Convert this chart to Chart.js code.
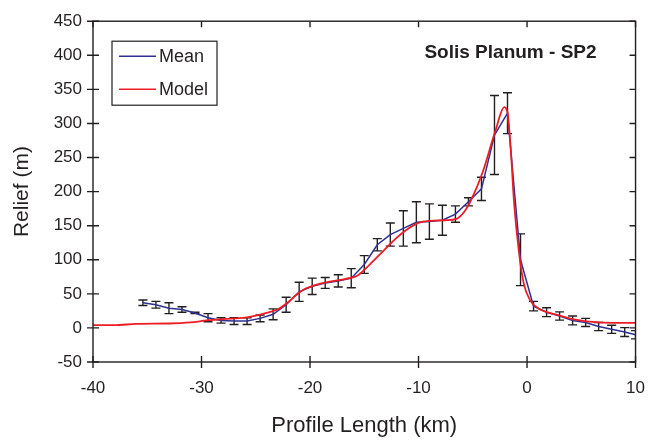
<!DOCTYPE html>
<html><head><meta charset="utf-8">
<script src="https://cdn.jsdelivr.net/npm/chart.js@4/dist/chart.umd.min.js"></script>
<style>html,body{margin:0;padding:0;background:#fff}#wrap{width:661px;height:444px}</style>
</head><body><div id="wrap"><canvas id="c" width="661" height="444"></canvas></div>
<script>
// Mean profile (km, m) with error bars (± m)
const meanX   = [-35.4,-34.2,-33.0,-31.8,-30.6,-29.4,-28.2,-27.0,-25.8,-24.6,-23.4,-22.2,-21.0,-19.8,-18.6,-17.4,-16.2,-15.0,-13.8,-12.6,-11.4,-10.2,-9.0,-7.8,-6.6,-5.4,-4.2,-3.0,-1.8,-0.6,0.6,1.8,3.0,4.2,5.4,6.6,7.8,9.0,10.0];
const meanY   = [37,34,29,27,22,15,11,10,10,14,20,34,53,61,66,69,73,93,122,137,146,155,156,158,167,185,204,283,315,100,32,23,17.5,11,8,2,-2,-6,-10];
const meanErr = [4,5,8,4,1,6,4,5,5,5,8,11,14,12,8,9,14,13,9,17,26,30,26,22,12,6,17,58,30,38,7,6.5,6,6.5,6,6,6,6.5,6];
// Model profile
const modelX = [-40,-38,-36,-33,-31,-29.5,-28,-26,-25,-24,-23,-22,-21.3,-20.5,-19.7,-18.2,-16.7,-15.6,-14.5,-13.3,-12.1,-11,-10,-9,-7.5,-6.5,-5.8,-5.2,-4.1,-2.9,-2.1,-1.8,-1.5,-1.2,-0.75,-0.3,0.3,1.1,2.6,4.2,6,8,10];
const modelY = [4,4,6,6.5,8,11,13,15,18,22,27,38,48,57,62,68,72,77,93,112,131,145,154,157,158,160,170,186,228,290,324,316,262,185,112,65,40,28,20,13,9,7.5,7.5];
// Axis ticks
const xTicks = [-40,-30,-20,-10,0,10];
const yTicks = [-50,0,50,100,150,200,250,300,350,400,450];
const legendLabels = ['Mean','Model'];
const chartTitle = 'Solis Planum - SP2';

const INK = '#231f20';
const BLUE = '#2e3192';
const RED = '#ed1c24';

const errorBars = {
  id:'errorBars',
  beforeDatasetsDraw(chart){
    const {ctx, chartArea:a, scales:{x,y}} = chart;
    ctx.save();
    ctx.beginPath(); ctx.rect(a.left,a.top,a.right-a.left,a.bottom-a.top); ctx.clip();
    ctx.strokeStyle = INK; ctx.lineWidth = 1.4;
    meanX.forEach((mx,i)=>{
      const px = x.getPixelForValue(mx);
      const t = y.getPixelForValue(meanY[i]+meanErr[i]);
      const b = y.getPixelForValue(meanY[i]-meanErr[i]);
      ctx.beginPath();
      ctx.moveTo(px,t); ctx.lineTo(px,b);
      ctx.moveTo(px-4.5,t); ctx.lineTo(px+4.5,t);
      ctx.moveTo(px-4.5,b); ctx.lineTo(px+4.5,b);
      ctx.stroke();
    });
    ctx.restore();
  }
};

const frame = {
  id:'frame',
  afterDatasetsDraw(chart){
    const {ctx, chartArea:a, scales:{x,y}} = chart;
    ctx.save();
    ctx.strokeStyle = INK; ctx.lineWidth = 1.4;
    ctx.strokeRect(a.left, a.top, a.right-a.left, a.bottom-a.top);
    ctx.beginPath();
    xTicks.forEach(v=>{
      const px = x.getPixelForValue(v);
      ctx.moveTo(px, a.bottom-6); ctx.lineTo(px, a.bottom+6);
      ctx.moveTo(px, a.top); ctx.lineTo(px, a.top+6);
    });
    yTicks.forEach(v=>{
      const py = y.getPixelForValue(v);
      ctx.moveTo(a.left-6, py); ctx.lineTo(a.left+6, py);
      ctx.moveTo(a.right-6, py); ctx.lineTo(a.right, py);
    });
    ctx.stroke();
    ctx.restore();
  },
  afterDraw(chart){
    const {ctx, chartArea:a} = chart;
    ctx.save();
    // legend box
    const lx = a.left+19, ly = a.top+20, lw = 105, lh = 64;
    ctx.fillStyle='#fff'; ctx.fillRect(lx,ly,lw,lh);
    ctx.strokeStyle = INK; ctx.lineWidth = 1.2;
    ctx.strokeRect(lx,ly,lw,lh);
    const cols = [BLUE, RED];
    ctx.font = '18px "Liberation Sans", Arial, sans-serif';
    ctx.textBaseline = 'middle'; ctx.textAlign='left';
    legendLabels.forEach((lab,i)=>{
      const yy = ly + 15 + i*33;
      ctx.strokeStyle = cols[i]; ctx.lineWidth = 1.6;
      ctx.beginPath(); ctx.moveTo(lx+7,yy); ctx.lineTo(lx+44,yy); ctx.stroke();
      ctx.fillStyle = INK; ctx.fillText(lab, lx+47, yy+1);
    });
    // title
    ctx.font = 'bold 19px "Liberation Sans", Arial, sans-serif';
    ctx.textAlign = 'right'; ctx.fillStyle = INK;
    ctx.fillText(chartTitle, a.right-39, a.top+32);
    ctx.restore();
  }
};

new Chart(document.getElementById('c'), {
  type:'scatter',
  data:{
    datasets:[
      {label:legendLabels[1], data:modelX.map((v,i)=>({x:v,y:modelY[i]})), showLine:true, borderColor:RED, borderWidth:1.8, pointRadius:0, order:0, cubicInterpolationMode:'monotone'},
      {label:legendLabels[0], data:meanX.map((v,i)=>({x:v,y:meanY[i]})), showLine:true, borderColor:BLUE, borderWidth:1.5, pointRadius:0, tension:0, order:1}
    ]
  },
  options:{
    responsive:false, devicePixelRatio:1, animation:false,
    layout:{padding:{left:0,right:24,top:16,bottom:0}},
    plugins:{legend:{display:false}, tooltip:{enabled:false}},
    scales:{
      x:{type:'linear', min:-40, max:10,
         afterBuildTicks(s){ s.ticks = xTicks.map(v=>({value:v})); },
         afterFit(s){ s.height = 82; },
         grid:{display:false, drawTicks:false}, border:{display:false},
         ticks:{color:INK, padding:16, maxRotation:0, font:{family:'"Liberation Sans", Arial, sans-serif', size:17}},
         title:{display:true, text:'Profile Length (km)', color:INK, padding:{top:0,bottom:5}, font:{family:'"Liberation Sans", Arial, sans-serif', size:22}}},
      y:{type:'linear', min:-50, max:450,
         afterBuildTicks(s){ s.ticks = yTicks.map(v=>({value:v})); },
         afterFit(s){ s.width = 93; },
         grid:{display:false, drawTicks:false}, border:{display:false},
         ticks:{color:INK, padding:11, font:{family:'"Liberation Sans", Arial, sans-serif', size:17}},
         title:{display:true, text:'Relief (m)', color:INK, padding:{top:10,bottom:0}, font:{family:'"Liberation Sans", Arial, sans-serif', size:21}}}
    }
  },
  plugins:[errorBars, frame]
});
</script></body></html>
